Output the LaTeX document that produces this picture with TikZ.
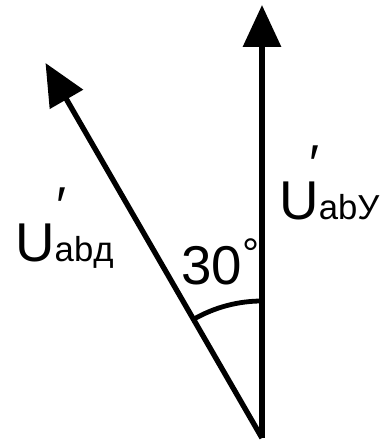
\documentclass[tikz,border=0pt]{standalone}
\usepackage{fontspec}
\setmainfont{Liberation Sans}
\usetikzlibrary{arrows.meta, calc}
\newcommand{\primesub}[2]{\rlap{\kern#1\raisebox{28pt}{\fontsize{40}{40}\selectfont ′}}{\fontsize{26}{26}\selectfont #2}}

\begin{document}
\begin{tikzpicture}[x=0.75pt, y=0.75pt,
    vec/.style={-{Triangle[length=31.5pt, width=28pt]}, line width=4pt},
    angarc/.style={line width=3.6pt},
    lbl/.style={anchor=base west, inner sep=0pt, font=\fontsize{41}{41}\selectfont}
]
\useasboundingbox (0,0) rectangle (380,445);

\coordinate (O) at (262,7);
\coordinate (Uy) at ($(O)+(90:433)$);
\coordinate (Ud) at ($(O)+(120:433)$);

\draw[vec] (O) -- (Uy);
\draw[vec] (O) -- (Ud);
\draw[angarc] ($(O)+(90:137)$) arc[start angle=90, end angle=120, radius=137];

\node[lbl] (ly) at (279,225) {U\primesub{-7pt}{abУ}};
\node[lbl] (ld) at (15,183) {U\primesub{1pt}{abд}};
\node[lbl] (ang) at (181,160) {30\raisebox{12pt}{\fontsize{32}{32}\selectfont °}};

\end{tikzpicture}
\end{document}
